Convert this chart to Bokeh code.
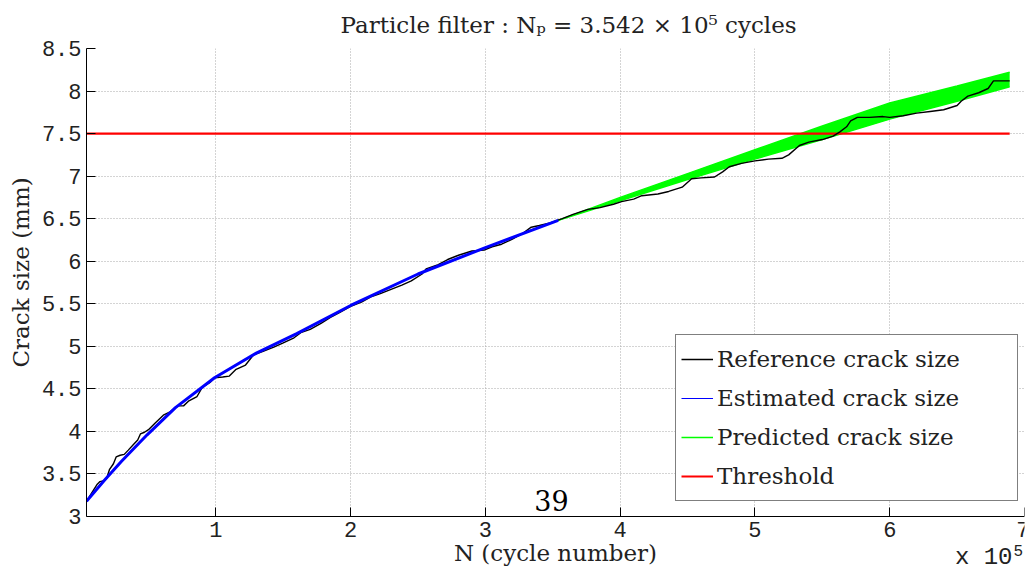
from bokeh.plotting import figure
from bokeh.models import Range1d, FixedTicker, Legend, LegendItem, Label, Title, BoxAnnotation
from bokeh.embed import file_html
from bokeh.resources import INLINE

# ---- data (x in units of 1e5 cycles, y in mm) ----
ref_n = [0.04, 0.08, 0.12, 0.14, 0.17, 0.19, 0.21, 0.24, 0.26, 0.29, 0.32, 0.35, 0.39, 0.42,
         0.44, 0.47, 0.50, 0.55, 0.61, 0.66, 0.72, 0.76, 0.80, 0.86, 0.90, 0.96, 0.99, 1.05,
         1.10, 1.15, 1.22, 1.28, 1.35, 1.43, 1.50, 1.58, 1.63, 1.70, 1.78, 1.85, 1.92, 2.00,
         2.08, 2.15, 2.22, 2.30, 2.38, 2.45, 2.53, 2.56, 2.65, 2.72, 2.80, 2.90, 2.99, 3.05,
         3.12, 3.20, 3.27, 3.34, 3.40, 3.48, 3.57, 3.65, 3.76, 3.85, 3.95, 4.01, 4.10, 4.16,
         4.28, 4.36, 4.46, 4.53, 4.60, 4.70, 4.76, 4.81, 4.90, 5.00, 5.10, 5.20, 5.25, 5.33,
         5.40, 5.50, 5.58, 5.63, 5.68, 5.71, 5.76, 5.85, 5.95, 6.00, 6.10, 6.20, 6.30, 6.40,
         6.50, 6.53, 6.58, 6.66, 6.73, 6.77, 6.89]
ref_a = [3.18, 3.28, 3.38, 3.41, 3.42, 3.45, 3.55, 3.62, 3.70, 3.72, 3.73, 3.78, 3.85, 3.90,
         3.97, 3.99, 4.02, 4.10, 4.19, 4.23, 4.30, 4.30, 4.36, 4.41, 4.52, 4.58, 4.63, 4.64,
         4.65, 4.73, 4.78, 4.90, 4.94, 4.99, 5.04, 5.10, 5.16, 5.20, 5.27, 5.34, 5.40, 5.47,
         5.52, 5.58, 5.62, 5.67, 5.72, 5.77, 5.85, 5.91, 5.96, 6.02, 6.07, 6.12, 6.13, 6.17,
         6.20, 6.26, 6.32, 6.40, 6.42, 6.45, 6.50, 6.55, 6.61, 6.63, 6.67, 6.70, 6.73, 6.77,
         6.79, 6.82, 6.87, 6.97, 6.98, 6.99, 7.05, 7.11, 7.15, 7.18, 7.20, 7.21, 7.25, 7.36,
         7.40, 7.43, 7.47, 7.52, 7.58, 7.65, 7.69, 7.69, 7.70, 7.69, 7.71, 7.74, 7.76, 7.78,
         7.83, 7.88, 7.94, 7.98, 8.03, 8.12, 8.12]

est_n = [0.04, 0.17, 0.30, 0.49, 0.70, 0.99, 1.30, 1.60, 2.00, 2.50, 3.00, 3.54]
est_a = [3.18, 3.42, 3.65, 3.96, 4.28, 4.63, 4.92, 5.15, 5.48, 5.85, 6.16, 6.48]

pred_n = [3.54, 4.00, 4.50, 5.00, 5.50, 6.00, 6.50, 6.89]
pred_hi = [6.48, 6.75, 7.03, 7.31, 7.59, 7.86, 8.06, 8.22]
pred_lo = [6.48, 6.71, 6.96, 7.20, 7.43, 7.67, 7.88, 8.05]

thr_n = [0.04, 6.89]
thr_a = [7.5, 7.5]

x_ticks = [1, 2, 3, 4, 5, 6, 7]
x_labels = ["1", "2", "3", "4", "5", "6", "7"]
y_ticks = [3, 3.5, 4, 4.5, 5, 5.5, 6, 6.5, 7, 7.5, 8, 8.5]
y_labels = ["3", "3.5", "4", "4.5", "5", "5.5", "6", "6.5", "7", "7.5", "8", "8.5"]

SERIF = "DejaVu Serif"
MONO = "Liberation Mono"
TXT = "#222222"

# layout: axes box spans y 48..516 px for 3..8.5 mm; the frame is extended down to the
# canvas bottom so that the x axis texts (drawn at a fixed location) are not clipped.
Y_MIN, Y_MAX = 3.0, 8.5
FRAME_TOP, AXIS_Y, CANVAS_H = 48, 516, 571
y_lo = Y_MIN - (CANVAS_H - AXIS_Y) * (Y_MAX - Y_MIN) / (AXIS_Y - FRAME_TOP)

p = figure(width=1029, height=CANVAS_H, output_backend="svg", toolbar_location=None,
           x_range=Range1d(0.04, 7.0), y_range=Range1d(y_lo, Y_MAX),
           min_border_left=86, min_border_right=5, min_border_top=FRAME_TOP, min_border_bottom=0)
p.outline_line_color = None
p.background_fill_color = "white"
p.border_fill_color = "white"

# title
p.title = Title(text="Particle filter :  Nₚ = 3.542 × 10⁵ cycles", align="left", offset=254,
                vertical_align="top",
                text_font=SERIF, text_font_size="23px", text_font_style="normal",
                text_color=TXT, standoff=18)

# axes
for ax in (p.xaxis[0], p.yaxis[0]):
    ax.axis_line_color = "black"
    ax.axis_line_width = 1
    ax.major_tick_in = 9
    ax.major_tick_out = 0
    ax.major_tick_line_color = "black"
    ax.minor_tick_line_color = None
    ax.major_label_text_font = MONO
    ax.major_label_text_font_size = "22px"
    ax.major_label_text_color = TXT
    ax.major_label_standoff = 5
    ax.axis_label_text_font = SERIF
    ax.axis_label_text_font_size = "23px"
    ax.axis_label_text_font_style = "normal"
    ax.axis_label_text_color = TXT

p.xaxis.fixed_location = Y_MIN
p.yaxis.bounds = (Y_MIN, Y_MAX)
p.xaxis.ticker = FixedTicker(ticks=x_ticks)
p.xaxis.major_label_overrides = dict(zip(x_ticks, x_labels))
p.yaxis.ticker = FixedTicker(ticks=y_ticks)
p.yaxis.major_label_overrides = {t: l for t, l in zip(y_ticks, y_labels)}
p.xaxis.axis_label = "N (cycle number)"
p.xaxis.axis_label_standoff = 0

# y axis label, placed as a side title so it is centred on the 3..8.5 span
p.add_layout(Title(text="Crack size (mm)", align="left", offset=204, vertical_align="bottom",
                   text_font=SERIF, text_font_size="23px", text_font_style="normal",
                   text_color=TXT, standoff=10), "left")

# grid (dotted); a white box hides the vertical grid lines below the x axis
for g in (p.xgrid[0], p.ygrid[0]):
    g.grid_line_color = "#a8a8a8"
    g.grid_line_dash = "1 2"
    g.grid_line_width = 1
p.add_layout(BoxAnnotation(top=Y_MIN, fill_color="white", fill_alpha=1.0,
                           line_color=None, level="underlay"))

# glyphs
band = p.varea(x=pred_n, y1=pred_lo, y2=pred_hi, fill_color="#00ff00", fill_alpha=1.0)
g_hi = p.line(pred_n, pred_hi, line_color="#00ff00", line_width=1.5)
g_lo = p.line(pred_n, pred_lo, line_color="#00ff00", line_width=1.5)
r_thr = p.line(thr_n, thr_a, line_color="#ff0000", line_width=2.2)
r_ref = p.line(ref_n, ref_a, line_color="black", line_width=1.4)
r_est = p.line(est_n, est_a, line_color="#0000ff", line_width=3)
r_est_thin = p.line(est_n, est_a, line_color="#0000ff", line_width=1.2)

legend = Legend(items=[
    LegendItem(label="Reference crack size", renderers=[r_ref]),
    LegendItem(label="Estimated crack size", renderers=[r_est_thin]),
    LegendItem(label="Predicted crack size", renderers=[g_hi]),
    LegendItem(label="Threshold", renderers=[r_thr]),
], location=(589, 70))
legend.label_text_font = SERIF
legend.label_text_font_size = "23px"
legend.label_text_color = TXT
legend.glyph_width = 32
legend.glyph_height = 20
legend.label_standoff = 4
legend.label_width = 295
legend.label_height = 38
legend.spacing = 1
legend.padding = 5
legend.margin = 0
legend.border_line_color = "black"
legend.border_line_width = 1.2
legend.background_fill_alpha = 1.0
p.add_layout(legend, "center")

# annotations
p.add_layout(Label(x=3.49, y=3.19, text="39", text_align="center", text_baseline="alphabetic",
                   text_font=SERIF, text_font_size="27px", text_color="black"))
p.add_layout(Label(x=926, y=14, x_units="screen", y_units="screen", text="x 10",
                   text_font=MONO, text_font_size="24px", text_color=TXT,
                   text_align="right", text_baseline="middle"))
p.add_layout(Label(x=927, y=21, x_units="screen", y_units="screen", text="5",
                   text_font=MONO, text_font_size="16px", text_color=TXT,
                   text_align="left", text_baseline="middle"))

open("out.html", "w").write(file_html(p, INLINE))
